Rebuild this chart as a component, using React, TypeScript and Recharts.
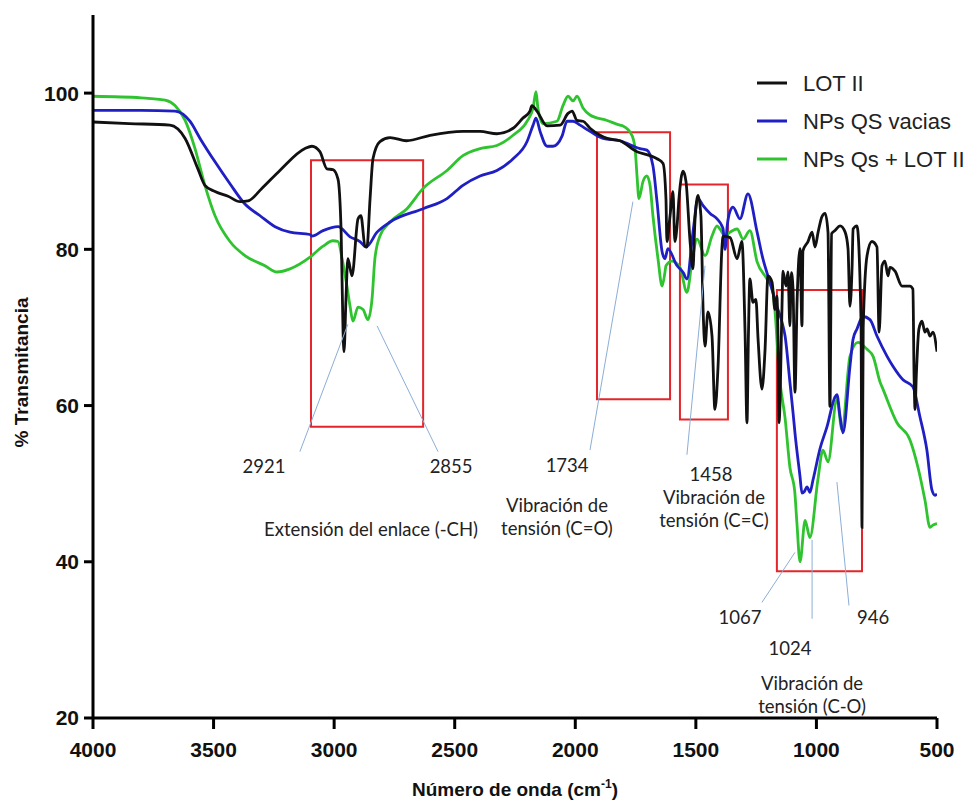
import React from 'react';
import {
  LineChart,
  Line,
  XAxis,
  YAxis,
  ReferenceArea,
  ReferenceLine,
  ReferenceDot,
  Label,
} from 'recharts';

// FTIR spectra: wavenumber (cm-1) and % transmittance for each sample
const lotWavenumber = [
  4000, 3850, 3681, 3618, 3565, 3536, 3494, 3440, 3390, 3357, 3300, 3225, 3121, 3092, 3059, 3030,
  3005, 2984, 2971, 2963, 2959, 2951, 2943, 2926, 2901, 2889, 2872, 2864, 2851, 2839, 2810, 2768,
  2700, 2602, 2466, 2395, 2325, 2258, 2217, 2188, 2180, 2159, 2117, 2063, 2030, 2013, 1993, 1968,
  1939, 1897, 1868, 1815, 1744, 1690, 1661, 1636, 1624, 1620, 1607, 1595, 1587, 1578, 1570, 1553,
  1541, 1524, 1512, 1504, 1491, 1479, 1470, 1462, 1450, 1433, 1421, 1408, 1392, 1387, 1358, 1329,
  1309, 1296, 1288, 1282, 1276, 1263, 1251, 1242, 1226, 1213, 1201, 1184, 1172, 1164, 1159, 1155,
  1143, 1139, 1126, 1118, 1110, 1104, 1097, 1089, 1080, 1068, 1060, 1056, 1035, 1018, 1006, 993,
  977, 964, 952, 944, 937, 923, 902, 881, 869, 861, 852, 848, 832, 815, 811, 806, 790, 770, 749,
  740, 728, 716, 703, 695, 674, 645, 612, 600, 595, 591, 586, 575, 562, 550, 541, 529, 517, 500,
];
const lotTransmittance = [
  96.3, 96.1, 95.9, 94.2, 90.3, 88.2, 87.4, 86.8, 86.1, 86.2, 87.8, 90.1, 92.9, 93.2, 92.5, 90.3,
  90.2, 89.0, 82.2, 69.4, 66.9, 73.6, 78.8, 76.6, 83.9, 84.3, 80.4, 80.3, 86.5, 91.6, 93.8, 94.3,
  93.9, 94.6, 95.1, 95.1, 94.8, 95.5, 96.8, 97.7, 98.4, 97.7, 95.8, 95.9, 97.4, 97.7, 96.5, 96.4,
  95.5, 94.6, 94.2, 93.9, 92.5, 92.0, 91.6, 91.0, 86.5, 81.0, 84.3, 87.4, 81.0, 83.0, 86.5, 90.0,
  88.7, 81.0, 77.5, 83.5, 86.9, 84.3, 72.3, 67.6, 72.0, 68.9, 59.5, 65.0, 80.1, 81.7, 81.5, 78.8,
  81.0, 69.4, 57.8, 69.0, 76.2, 73.2, 73.6, 68.5, 62.1, 67.2, 76.6, 75.8, 72.3, 74.0, 68.1, 57.8,
  72.3, 77.2, 75.3, 77.1, 70.2, 77.0, 74.9, 61.7, 73.6, 80.1, 70.2, 79.8, 81.0, 82.2, 80.3, 82.2,
  84.2, 84.6, 82.2, 59.9, 82.0, 82.4, 83.0, 82.2, 80.1, 72.7, 77.9, 82.6, 83.0, 70.7, 44.4, 70.0, 79.2, 81.0, 80.3,
  69.4, 77.9, 78.5, 76.6, 77.7, 77.2, 75.3, 75.3, 74.9, 63.7, 59.5, 63.7, 69.8, 70.8, 69.4, 69.8, 68.9, 69.4, 66.9,
];

const qsWavenumber = [
  4000, 3800, 3660, 3598, 3556, 3494, 3432, 3370, 3307, 3245, 3183, 3100, 3092, 3046, 2984, 2934,
  2893, 2868, 2822, 2768, 2631, 2532, 2466, 2395, 2325, 2258, 2200, 2175, 2163, 2146, 2117, 2092,
  2055, 2034, 2009, 1980, 1939, 1885, 1815, 1732, 1703, 1678, 1661, 1640, 1628, 1616, 1580, 1552,
  1537, 1512, 1491, 1470, 1441, 1412, 1392, 1387, 1379, 1370, 1358, 1346, 1317, 1284, 1246, 1222,
  1193, 1164, 1143, 1130, 1110, 1097, 1089, 1068, 1060, 1050, 1039, 1027, 1014, 985, 956, 923, 915,
  902, 890, 861, 848, 832, 807, 778, 749, 707, 682, 641, 600, 571, 542, 521, 508, 500,
];
const qsTransmittance = [
  97.8, 97.8, 97.7, 96.4, 94.2, 91.2, 88.4, 85.8, 84.3, 82.9, 82.2, 81.9, 81.7, 82.4, 82.9, 81.6,
  81.0, 80.3, 82.2, 83.5, 85.2, 86.5, 88.2, 89.4, 90.1, 91.6, 93.8, 95.9, 96.8, 95.1, 93.2, 93.2,
  94.5, 96.4, 96.4, 95.9, 95.1, 94.2, 93.9, 92.9, 92.7, 90.7, 86.1, 79.7, 78.8, 80.1, 78.0, 77.0,
  76.2, 82.2, 86.5, 85.6, 84.6, 83.9, 83.0, 82.6, 80.0, 83.0, 84.9, 85.4, 83.9, 87.1, 82.2, 78.8,
  75.8, 72.7, 70.7, 68.9, 63.0, 59.1, 56.5, 50.9, 48.8, 49.0, 49.6, 48.9, 50.5, 54.5, 57.3, 61.1, 61.4,
  58.6, 56.5, 65.0, 68.5, 69.8, 71.4, 71.0, 68.9, 66.3, 65.0, 63.3, 62.4, 58.6, 54.3, 49.2, 48.5, 48.7,
];

const qsLotWavenumber = [
  4000, 3800, 3701, 3660, 3618, 3577, 3536, 3494, 3432, 3370, 3287, 3237, 3183, 3100, 3046, 3005,
  2984, 2967, 2947, 2934, 2922, 2901, 2880, 2860, 2843, 2831, 2810, 2768, 2698, 2631, 2532, 2466,
  2395, 2325, 2258, 2200, 2175, 2163, 2155, 2134, 2076, 2051, 2030, 2009, 1993, 1968, 1939, 1868,
  1815, 1802, 1765, 1752, 1744, 1736, 1719, 1703, 1690, 1678, 1657, 1640, 1628, 1624, 1599, 1566,
  1537, 1516, 1495, 1462, 1433, 1412, 1400, 1379, 1358, 1329, 1304, 1276, 1246, 1205, 1180, 1151,
  1130, 1110, 1090, 1081, 1068, 1047, 1027, 994, 973, 952, 915, 894, 861, 828, 790, 765, 736, 724,
  666, 612, 579, 550, 529, 517, 500,
];
const qsLotTransmittance = [
  99.6, 99.4, 99.1, 98.4, 96.5, 92.9, 88.2, 84.3, 81.0, 79.2, 77.9, 77.1, 77.5, 79.0, 80.4, 81.1,
  81.0, 78.8, 75.3, 72.7, 70.8, 72.6, 72.3, 71.0, 73.6, 78.8, 81.7, 83.5, 85.2, 87.8, 90.1, 92.0,
  92.9, 93.3, 94.6, 96.4, 98.1, 100.2, 98.1, 96.1, 96.4, 98.4, 99.6, 99.0, 99.6, 98.1, 97.2, 96.5,
  95.9, 95.8, 94.6, 92.9, 89.4, 86.5, 88.7, 89.4, 88.2, 84.3, 78.8, 75.3, 77.1, 77.9, 78.5, 77.7,
  74.5, 78.4, 81.3, 79.2, 81.7, 83.0, 82.6, 81.7, 82.2, 82.6, 81.3, 82.4, 78.4, 76.2, 74.5, 63.0,
  58.4, 52.1, 49.0, 45.0, 40.0, 45.3, 43.1, 50.5, 54.3, 52.8, 60.8, 56.9, 66.3, 68.1, 67.2, 66.3, 63.0, 62.1,
  57.8, 55.6, 52.1, 47.9, 44.4, 44.7, 44.9,
];

const xTicks = [4000, 3500, 3000, 2500, 2000, 1500, 1000, 500];
const yTicks = [20, 40, 60, 80, 100];

type Pt = { x: number; y: number };
const zip = (xs: number[], ys: number[]): Pt[] => xs.map((x, i) => ({ x, y: ys[i] }));

const series = [
  { name: 'LOT II', color: '#111111', data: zip(lotWavenumber, lotTransmittance) },
  { name: 'NPs QS vacias', color: '#1f1fc4', data: zip(qsWavenumber, qsTransmittance) },
  { name: 'NPs Qs + LOT II', color: '#2fc42f', data: zip(qsLotWavenumber, qsLotTransmittance) },
];

// Highlighted band regions (wavenumber range, transmittance range)
const bandBoxes = [
  { x1: 3096, x2: 2631, y1: 57.3, y2: 91.4 },
  { x1: 1910, x2: 1607, y1: 60.8, y2: 95.0 },
  { x1: 1566, x2: 1367, y1: 58.2, y2: 88.3 },
  { x1: 1164, x2: 811, y1: 38.8, y2: 74.8 },
];

// Leader lines from bands to their labels
const leaders: [Pt, Pt][] = [
  [{ x: 2943, y: 70.4 }, { x: 3142, y: 54.1 }],
  [{ x: 2822, y: 70.2 }, { x: 2569, y: 54.1 }],
  [{ x: 1761, y: 86.1 }, { x: 1939, y: 54.3 }],
  [{ x: 1462, y: 77.9 }, { x: 1537, y: 53.7 }],
  [{ x: 1089, y: 41.2 }, { x: 1226, y: 34.8 }],
  [{ x: 1018, y: 42.8 }, { x: 1018, y: 32.7 }],
  [{ x: 915, y: 50.2 }, { x: 865, y: 34.4 }],
];

const notes = [
  { x: 3291, y: 52.2, text: '2921' },
  { x: 2515, y: 52.2, text: '2855' },
  { x: 2847, y: 44.2, text: 'Extensión del enlace (-CH)' },
  { x: 2034, y: 52.4, text: '1734' },
  { x: 2076, y: 47.3, text: 'Vibración de' },
  { x: 2076, y: 44.3, text: 'tensión (C=O)' },
  { x: 1437, y: 51.2, text: '1458' },
  { x: 1425, y: 48.3, text: 'Vibración de' },
  { x: 1425, y: 45.3, text: 'tensión (C=C)' },
  { x: 1317, y: 32.9, text: '1067' },
  { x: 765, y: 32.9, text: '946' },
  { x: 1110, y: 28.9, text: '1024' },
  { x: 1018, y: 24.5, text: 'Vibración de' },
  { x: 1018, y: 21.5, text: 'tensión (C-O)' },
];

const axisFont = "'Liberation Sans', Arial, sans-serif";
const noteFont = "Lato, 'Open Sans', sans-serif";

const XTitle = (props: any) => {
  const { x, y, width } = props.viewBox;
  return (
    <text
      x={x + width / 2}
      y={y + 78}
      textAnchor="middle"
      fontFamily={axisFont}
      fontWeight="bold"
      fontSize={19}
      fill="#111"
    >
      Número de onda (cm
      <tspan dy={-8} fontSize={12}>-1</tspan>
      <tspan dy={8}>)</tspan>
    </text>
  );
};

const YTitle = (props: any) => {
  const { y, height } = props.viewBox;
  const cx = 13;
  const cy = y + height / 2 + 6;
  return (
    <text
      x={cx}
      y={cy}
      transform={`rotate(-90 ${cx} ${cy})`}
      textAnchor="middle"
      dominantBaseline="central"
      fontFamily={axisFont}
      fontWeight="bold"
      fontSize={19}
      fill="#111"
    >
      % Transmitancia
    </text>
  );
};

const SeriesKey = () => (
  <svg
    width={220}
    height={120}
    style={{ position: 'absolute', left: 745, top: 55, overflow: 'visible' }}
  >
    {series.map((s, i) => (
      <g key={s.name}>
        <line x1={4} x2={34} y1={20 + i * 38} y2={20 + i * 38} stroke={s.color} strokeWidth={3} />
        <text
          x={50}
          y={20 + i * 38}
          dominantBaseline="central"
          fontFamily={axisFont}
          fontSize={22}
          fill="#222"
        >
          {s.name}
        </text>
      </g>
    ))}
  </svg>
);

export default function App() {
  return (
    <div style={{ position: 'relative', width: 964, height: 793 }}>
      <LineChart width={964} height={793} margin={{ top: 7, right: 35, bottom: 0, left: 0 }}>
        <XAxis
          type="number"
          dataKey="x"
          domain={[500, 4000]}
          reversed
          ticks={xTicks}
          allowDataOverflow
          height={83}
          axisLine={{ stroke: '#000', strokeWidth: 3 }}
          tickLine={{ stroke: '#000', strokeWidth: 3 }}
          tickSize={11}
          tickMargin={13}
          tick={{ fill: '#111', fontSize: 21, fontWeight: 'bold', fontFamily: axisFont }}
        >
          <Label content={XTitle} />
        </XAxis>
        <YAxis
          type="number"
          dataKey="y"
          domain={[20, 110]}
          ticks={yTicks}
          allowDataOverflow
          width={85}
          axisLine={{ stroke: '#000', strokeWidth: 3 }}
          tickLine={{ stroke: '#000', strokeWidth: 3 }}
          tickSize={9}
          tickMargin={5}
          tick={{ fill: '#111', fontSize: 21, fontWeight: 'bold', fontFamily: axisFont }}
        >
          <Label content={YTitle} />
        </YAxis>
        {[...series].reverse().map((s) => (
          <Line
            key={s.name}
            data={s.data}
            dataKey="y"
            name={s.name}
            type="monotone"
            stroke={s.color}
            strokeWidth={2.8}
            dot={false}
            isAnimationActive={false}
          />
        ))}
        {bandBoxes.map((b, i) => (
          <ReferenceArea
            key={`box-${i}`}
            x1={b.x1}
            x2={b.x2}
            y1={b.y1}
            y2={b.y2}
            fill="none"
            fillOpacity={0}
            stroke="#e3262b"
            strokeWidth={2}
            ifOverflow="visible"
          />
        ))}
        {leaders.map((seg, i) => (
          <ReferenceLine
            key={`lead-${i}`}
            segment={seg}
            stroke="#8caed6"
            strokeWidth={1}
            ifOverflow="visible"
          />
        ))}
        {notes.map((n, i) => (
          <ReferenceDot
            key={`note-${i}`}
            x={n.x}
            y={n.y}
            r={1}
            ifOverflow="visible"
            shape={(p: any) => (
              <text
                x={p.cx}
                y={p.cy}
                textAnchor="middle"
                dominantBaseline="central"
                fontFamily={noteFont}
                fontSize={18.5}
                fill="#222"
              >
                {n.text}
              </text>
            )}
          />
        ))}
      </LineChart>
      <SeriesKey />
    </div>
  );
}
